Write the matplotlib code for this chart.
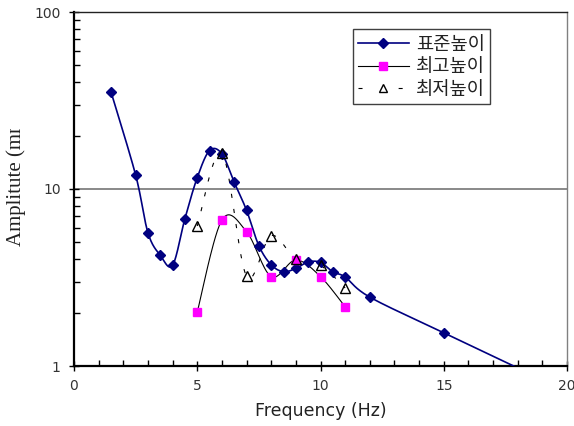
import numpy as np
import matplotlib
matplotlib.use("Agg")
import matplotlib.pyplot as plt
from matplotlib.ticker import FixedLocator, NullFormatter
from matplotlib.transforms import Bbox
from matplotlib.lines import Line2D

plt.rcParams["lines.scale_dashes"] = False

# ---- data ----
std_x = [1.5, 2.5, 3, 3.5, 4, 4.5, 5, 5.5, 6, 6.5, 7, 7.5, 8, 8.5, 9, 9.5, 10, 10.5, 11, 12, 15, 20]
std_y = [35.4, 12.0, 5.66, 4.22, 3.71, 6.8, 11.6, 16.5, 15.8, 10.9, 7.58, 4.78, 3.73, 3.41, 3.56, 3.87, 3.85, 3.40, 3.18, 2.45, 1.54, 0.72]

max_x = [5, 6, 7, 8, 9, 10, 11]
max_y = [2.02, 6.68, 5.74, 3.2, 3.97, 3.2, 2.16]

min_x = [5, 6, 7, 8, 9, 10, 11]
min_y = [6.18, 16.0, 3.22, 5.45, 4.0, 3.7, 2.76]

labels = ["표준높이", "최고높이", "최저높이"]
x_ticks = [0, 5, 10, 15, 20]
y_ticks = [1, 10, 100]


def smooth(xs, ys, n=30):
    """Excel-style smoothed line (Bezier through points) in (x, log y) space."""
    px = np.asarray(xs, float)
    py = np.log10(np.asarray(ys, float))
    P = np.column_stack([px, py])
    out = [P[0]]
    m = len(P)
    t = np.linspace(0, 1, n)[1:, None]
    for i in range(m - 1):
        p0 = P[i - 1] if i > 0 else P[i]
        p1 = P[i]
        p2 = P[i + 1]
        p3 = P[i + 2] if i + 2 < m else P[i + 1]
        c1 = p1 + (p2 - p0) / 6.0
        c2 = p2 - (p3 - p1) / 6.0
        seg = ((1 - t) ** 3) * p1 + 3 * ((1 - t) ** 2) * t * c1 + 3 * (1 - t) * t ** 2 * c2 + t ** 3 * p2
        out.extend(seg)
    out = np.array(out)
    return out[:, 0], 10 ** out[:, 1]


W, H = 574, 426
fig = plt.figure(figsize=(W / 100, H / 100), dpi=100)
ax = fig.add_axes([74 / W, (H - 366) / H, (567 - 74) / W, (366 - 12) / H])

ax.set_xlim(0, 20)
ax.set_yscale("log")
ax.set_ylim(1, 100)

navy = "#000080"
# standard
sx, sy = smooth(std_x, std_y)
ax.plot(sx, sy, color=navy, lw=1.2, zorder=3)
ax.plot(std_x, std_y, ls="none", marker="D", ms=5.5, color=navy, mec=navy, zorder=4)
# max
mx, my = smooth(max_x, max_y)
ax.plot(mx, my, color="black", lw=0.8, zorder=3)
ax.plot(max_x, max_y, ls="none", marker="s", ms=5.5, color="#FF00FF", mec="#FF00FF", zorder=5)
# min
nx, ny = smooth(min_x, min_y)
ax.plot(nx, ny, color="black", lw=0.8, ls=(0, (3, 8)), zorder=3)
ax.plot(min_x, min_y, ls="none", marker="^", ms=6.5, mfc="none", mec="black", mew=1.0, zorder=6)

# grid line at 10
ax.axhline(10, color="#808080", lw=1.3, zorder=1)

# ticks
ax.xaxis.set_major_locator(FixedLocator(x_ticks))
ax.xaxis.set_minor_locator(FixedLocator(np.arange(0, 21, 1)))
ax.set_xticklabels([str(v) for v in x_ticks])
ax.yaxis.set_major_locator(FixedLocator(y_ticks))
ax.yaxis.set_minor_locator(FixedLocator([k * d for d in (1, 10) for k in range(2, 10)]))
ax.yaxis.set_minor_formatter(NullFormatter())
ax.set_yticklabels([str(v) for v in y_ticks])

ax.tick_params(axis="both", which="major", direction="inout", length=7, width=1.0,
               labelsize=10, labelcolor="#333333", color="black")
ax.tick_params(axis="both", which="minor", direction="in", length=4, width=1.0, color="black")
ax.tick_params(axis="x", which="major", pad=6)
ax.tick_params(axis="y", which="major", pad=6)

for s in ("left", "bottom"):
    ax.spines[s].set_linewidth(1.6)
    ax.spines[s].set_color("black")
ax.spines["top"].set_linewidth(1.0)
ax.spines["top"].set_color("#222222")
ax.spines["right"].set_linewidth(1.0)
ax.spines["right"].set_color("#808080")

ax.set_xlabel("Frequency (Hz)", fontsize=12.5, color="#222222", labelpad=6)

# y label (clipped at top as in the reference)
yl = fig.text(16 / W, (H - 246) / H, "Amplitute (mm)", rotation=90, ha="center", va="bottom",
              fontsize=15, family=["Liberation Serif", "DejaVu Serif"], color="#222222")
yl.set_clip_box(Bbox.from_extents(0, 0, 60, H - 129))
yl.set_clip_on(True)

# legend
plt.rcParams["font.family"] = ["Noto Sans CJK KR", "DejaVu Sans"]
handles = [
    Line2D([], [], color=navy, lw=1.2, marker="D", ms=5.5, mfc=navy, mec=navy),
    Line2D([], [], color="black", lw=0.8, marker="s", ms=5.5, mfc="#FF00FF", mec="#FF00FF"),
    Line2D([], [], color="black", lw=0.8, ls=(0, (2.9, 26)), marker="^", ms=5.5, mfc="none", mec="black"),
]
leg = ax.legend(handles, labels, loc="upper left",
                bbox_to_anchor=(353 / W, (H - 29) / H), bbox_transform=fig.transFigure,
                prop={"family": ["Noto Sans CJK KR", "DejaVu Sans"], "size": 13.5},
                frameon=True, fancybox=False, framealpha=1, edgecolor="#404040",
                handlelength=2.75, handletextpad=0.35, borderpad=0.25, labelspacing=0.08,
                borderaxespad=0, markerscale=1.0)
leg.get_frame().set_linewidth(1.0)
for t in leg.get_texts():
    t.set_color("#222222")

fig.savefig("out.png", dpi=100)
